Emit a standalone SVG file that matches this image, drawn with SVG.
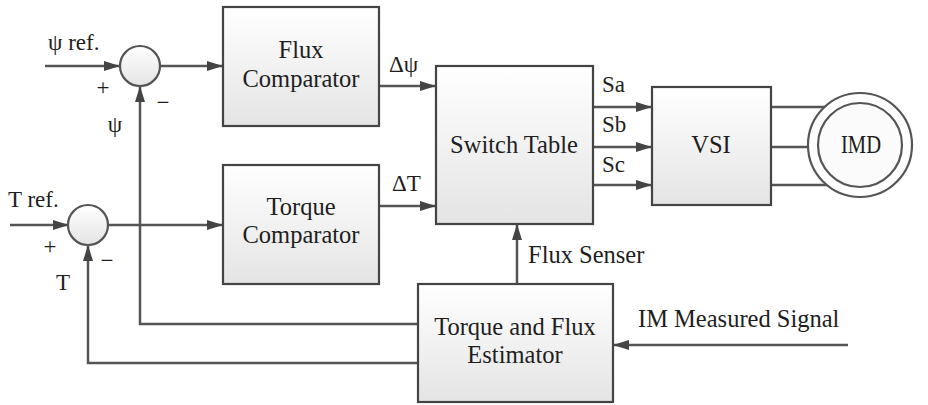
<svg xmlns="http://www.w3.org/2000/svg" width="928" height="405" viewBox="0 0 928 405">
  <defs>
    <linearGradient id="boxg" x1="0" y1="0" x2="0" y2="1">
      <stop offset="0" stop-color="#ffffff"/>
      <stop offset="1" stop-color="#e4e4e4"/>
    </linearGradient>
    <marker id="arr" markerUnits="userSpaceOnUse" markerWidth="16" markerHeight="10" refX="16" refY="5" orient="auto">
      <path d="M0,0 L16,5 L0,10 z" fill="#444"/>
    </marker>
    <style>
      .box { fill: url(#boxg); stroke: #444; stroke-width: 2.2; }
      .sum { fill: url(#boxg); stroke: #555; stroke-width: 2.2; }
      .wire { fill: none; stroke: #555; stroke-width: 2.5; }
      .arw { marker-end: url(#arr); }
      .t { font-size: 24.5px; fill: #1e1e1e; }
      .c { text-anchor: middle; }
      .lbl { font-size: 23px; fill: #1e1e1e; }
      .big { font-size: 24.5px; }
    </style>
  </defs>
  <rect width="928" height="405" fill="#ffffff"/>

  <g id="connectors">
    <path class="wire arw" d="M45,66 H120"/>
    <path class="wire arw" d="M160,66 H223"/>
    <path class="wire arw" d="M379,86 H436"/>
    <path class="wire arw" d="M379,206 H436"/>
    <path class="wire arw" d="M10,225 H69"/>
    <path class="wire arw" d="M109,225 H223"/>
    <path class="wire arw" d="M418,324 H140 V86"/>
    <path class="wire arw" d="M418,363 H88 V245"/>
    <path class="wire arw" d="M517,284 V224"/>
    <path class="wire arw" d="M848,345 H613"/>
    <path class="wire arw" d="M593,107 H652"/>
    <path class="wire arw" d="M593,147 H652"/>
    <path class="wire arw" d="M593,185 H652"/>
    <path class="wire" d="M771,107 H830"/>
    <path class="wire" d="M771,147 H830"/>
    <path class="wire" d="M771,185 H830"/>
  </g>

  <g font-family="'Liberation Serif', 'DejaVu Serif', serif">
  <g id="sum1">
    <circle class="sum" cx="140" cy="66" r="20"/>
  </g>
  <g id="sum2">
    <circle class="sum" cx="88" cy="225" r="20"/>
  </g>

  <g id="flux-comparator">
    <rect class="box" x="223" y="7" width="156" height="119"/>
    <text class="t c" x="301" y="58">Flux</text>
    <text class="t c" x="301" y="87">Comparator</text>
  </g>

  <g id="torque-comparator">
    <rect class="box" x="223" y="165" width="156" height="119"/>
    <text class="t c" x="301" y="215">Torque</text>
    <text class="t c" x="301" y="243">Comparator</text>
  </g>

  <g id="switch-table">
    <rect class="box" x="436" y="66" width="157" height="158"/>
    <text class="t c" x="514" y="153">Switch Table</text>
  </g>

  <g id="vsi">
    <rect class="box" x="652" y="87" width="119" height="118"/>
    <text class="t c" x="711" y="153">VSI</text>
  </g>

  <g id="imd">
    <circle cx="860" cy="145" r="52" fill="#ffffff" stroke="#555" stroke-width="2.2"/>
    <circle cx="860" cy="145" r="42" fill="#fbfbfb" stroke="#555" stroke-width="2.2"/>
    <text class="t c" x="861" y="153" textLength="40" lengthAdjust="spacingAndGlyphs">IMD</text>
  </g>

  <g id="estimator">
    <rect class="box" x="418" y="284" width="195" height="118"/>
    <text class="t c" x="515" y="335">Torque and Flux</text>
    <text class="t c" x="515" y="363">Estimator</text>
  </g>

  <g id="labels">
    <text class="lbl" x="48" y="50">ψ ref.</text>
    <text class="lbl c" x="103" y="95">+</text>
    <text class="lbl c" x="163" y="110">−</text>
    <text class="lbl c" x="115" y="132">ψ</text>
    <text class="lbl" x="8" y="207">T ref.</text>
    <text class="lbl c" x="50" y="254">+</text>
    <text class="lbl c" x="107" y="268">−</text>
    <text class="lbl c" x="63" y="290">T</text>
    <text class="lbl" x="389" y="72">Δψ</text>
    <text class="lbl" x="392" y="191">ΔT</text>
    <text class="lbl" x="602" y="92">Sa</text>
    <text class="lbl" x="602" y="132">Sb</text>
    <text class="lbl" x="602" y="172">Sc</text>
    <text class="lbl big" x="528" y="263">Flux Senser</text>
    <text class="lbl big" x="638" y="327">IM Measured Signal</text>
  </g>
  </g>
</svg>
